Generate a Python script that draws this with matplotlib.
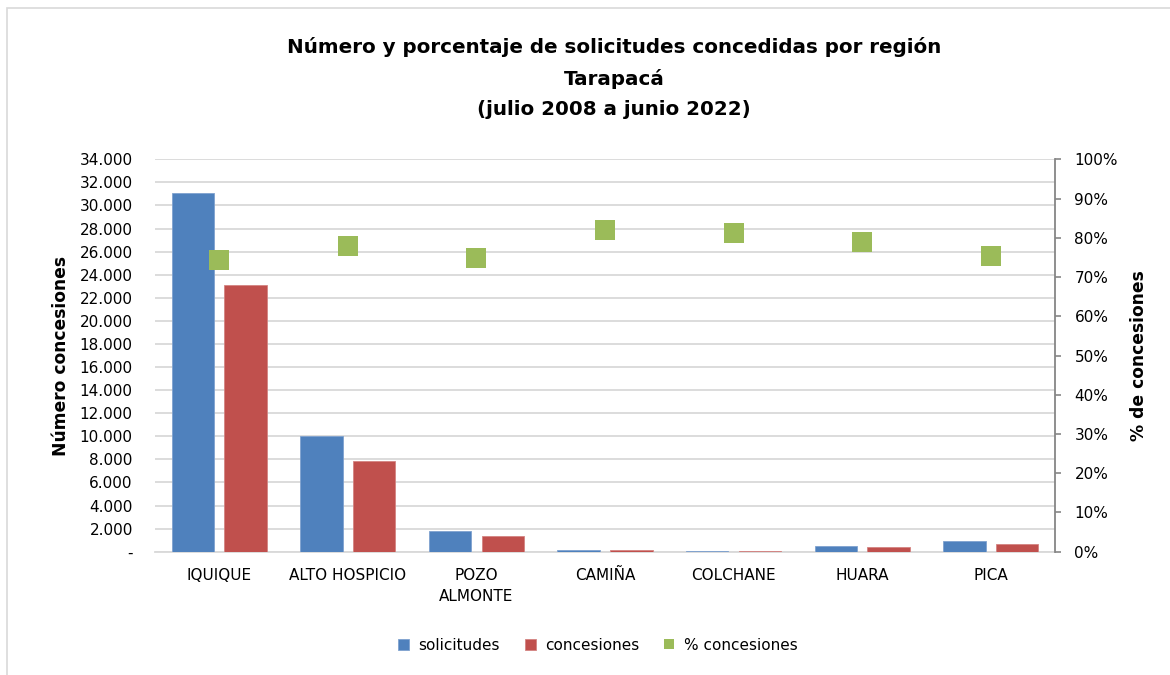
import numpy as np
import matplotlib
matplotlib.use('Agg')
import matplotlib.pyplot as plt
from matplotlib.patches import Rectangle
from matplotlib.ticker import FuncFormatter, MultipleLocator

plt.rcParams['font.family'] = ['DejaVu Sans']

comunas = ['IQUIQUE', 'ALTO HOSPICIO', 'POZO\nALMONTE', 'CAMIÑA', 'COLCHANE', 'HUARA', 'PICA']
solicitudes = [31050, 10050, 1800, 180, 90, 500, 950]
concesiones = [23100, 7830, 1360, 140, 70, 400, 700]
pct_concesiones = [0.743, 0.780, 0.748, 0.819, 0.813, 0.789, 0.754]

c_sol = '#4F81BD'
c_con = '#C0504D'
c_pct = '#9BBB59'


def miles(v, pos):
    if v == 0:
        return '-'
    return '{:,.0f}'.format(v).replace(',', '.')


def main():
    fig = plt.figure(figsize=(11.7, 6.75), dpi=100)
    ax = fig.add_axes([155/1170, 1-551.7/675, 900/1170, 392.4/675])
    ax2 = ax.twinx()

    x = np.arange(len(comunas))
    w = 0.33
    ax.bar(x - 0.205, solicitudes, w, color=c_sol, edgecolor='#7FA2CF', lw=0.6, zorder=3, label='solicitudes')
    ax.bar(x + 0.205, concesiones, w, color=c_con, edgecolor='#D48482', lw=0.6, zorder=3, label='concesiones')
    ax2.plot(x, pct_concesiones, 's', color=c_pct, ms=14, mew=0, ls='none', label='% concesiones')

    ax.set_xlim(-0.5, len(comunas) - 0.5)
    ax.set_ylim(0, 34000)
    ax.yaxis.set_major_locator(MultipleLocator(2000))
    ax.yaxis.set_major_formatter(FuncFormatter(miles))
    ax.grid(axis='y', color='#D9D9D9', lw=1.3, zorder=0)
    ax.set_axisbelow(True)
    ax.tick_params(axis='y', length=0, pad=16, labelsize=11)
    ax.tick_params(axis='x', length=0, pad=12, labelsize=11)
    ax.set_xticks(x)
    ax.set_xticklabels(comunas, linespacing=1.45)
    for s in ['top', 'left', 'right']:
        ax.spines[s].set_visible(False)
    ax.spines['bottom'].set_color('#D9D9D9')
    ax.spines['bottom'].set_linewidth(1.3)

    ax2.set_ylim(0, 1)
    ax2.yaxis.set_major_locator(MultipleLocator(0.1))
    ax2.yaxis.set_major_formatter(FuncFormatter(lambda v, p: '{:.0f}%'.format(v*100)))
    ax2.tick_params(axis='y', length=4, width=1.2, color='#868686', pad=10, labelsize=11)
    for s in ['top', 'left', 'bottom']:
        ax2.spines[s].set_visible(False)
    ax2.spines['right'].set_color('#868686')
    ax2.spines['right'].set_linewidth(1.3)

    ax.set_ylabel('Número concesiones', fontsize=12.3, fontweight='bold', labelpad=7)
    ax2.set_ylabel('% de concesiones', fontsize=12.3, fontweight='bold', rotation=90, labelpad=9)

    fig.text(614/1170, 1-78/675,
             'Número y porcentaje de solicitudes concedidas por región\nTarapacá\n(julio 2008 a junio 2022)',
             ha='center', va='center', fontsize=14.3, fontweight='bold', linespacing=1.75)

    h1, l1 = ax.get_legend_handles_labels()
    h2, l2 = ax2.get_legend_handles_labels()
    fig.legend(h1 + h2, l1 + l2, loc='center', bbox_to_anchor=(598/1170, 1-645/675), ncol=3,
               frameon=False, fontsize=11, handlelength=0.7, handleheight=0.7, columnspacing=1.65,
               handletextpad=0.6, markerscale=0.55)

    fig.patches.append(Rectangle((6.5/1170, -0.1), 1.2, 1.1 - 8.5/675, transform=fig.transFigure,
                                 fill=False, edgecolor='#D9D9D9', lw=1.2, clip_on=False))

    fig.savefig('out.png', dpi=100)


if __name__ == '__main__':
    main()
